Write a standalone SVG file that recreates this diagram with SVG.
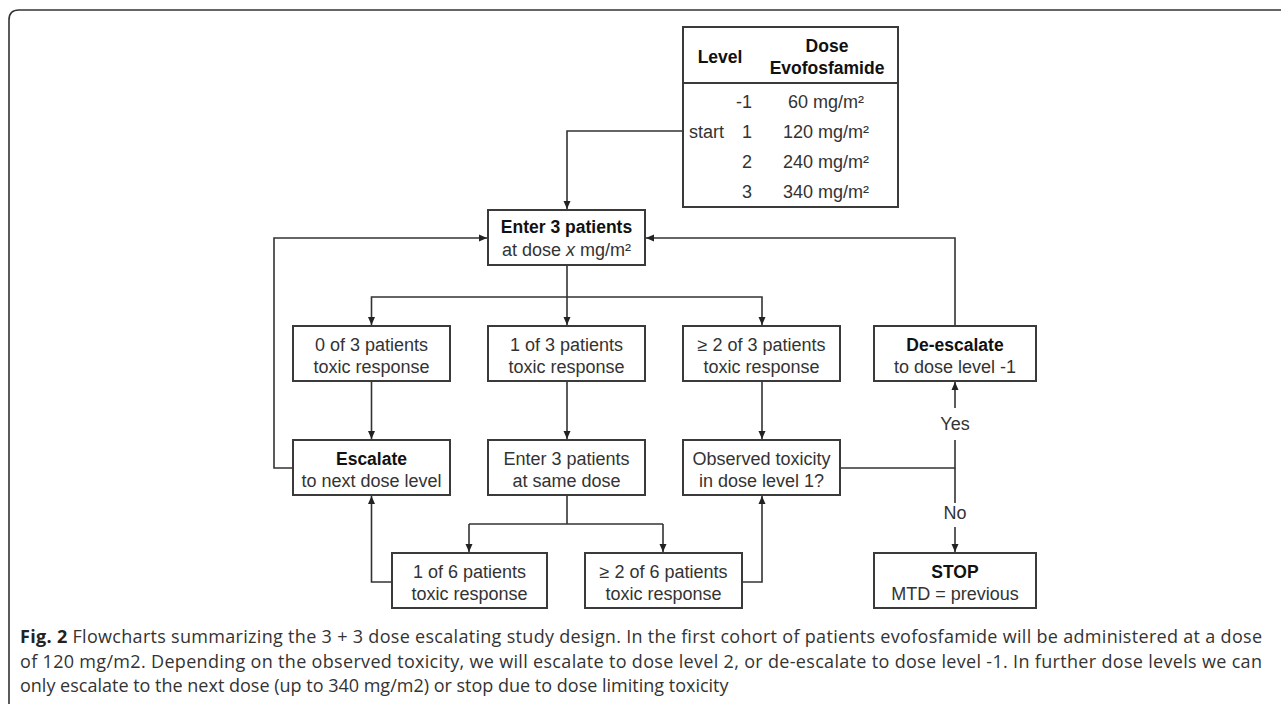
<svg xmlns="http://www.w3.org/2000/svg" width="1281" height="704" viewBox="0 0 1281 704">
<style>
.box{fill:#fff;stroke:#3a3a3a;stroke-width:2}
.t{font-family:"Liberation Sans",Arial,sans-serif;font-size:18px;fill:#333;text-anchor:middle}
.b{font-weight:bold;fill:#111;font-size:17.5px}
.c{fill:none;stroke:#333;stroke-width:1.6}
.cap{font-family:"Open Sans","Liberation Sans",sans-serif;font-size:18px;fill:#333}
</style>
<defs>
<marker id="ah" markerWidth="8" markerHeight="8" refX="8" refY="4" orient="auto" markerUnits="userSpaceOnUse">
<path d="M0,0.5 L8,4 L0,7.5 z" fill="#222"/>
</marker>
</defs>
<rect width="1281" height="704" fill="#fff"/>
<path d="M9,704 V20 Q9,10 19,10 H1281" fill="none" stroke="#333" stroke-width="1.6"/>

<g id="connectors">
<path class="c" d="M683,131 H567 V209" marker-end="url(#ah)"/>
<path class="c" d="M567,265 V325" marker-end="url(#ah)"/>
<path class="c" d="M567,297 H371.5 V325" marker-end="url(#ah)"/>
<path class="c" d="M567,297 H762 V325" marker-end="url(#ah)"/>
<path class="c" d="M371.5,381 V439" marker-end="url(#ah)"/>
<path class="c" d="M567,381 V439" marker-end="url(#ah)"/>
<path class="c" d="M762,381 V439" marker-end="url(#ah)"/>
<path class="c" d="M293,468 H274 V238 H487" marker-end="url(#ah)"/>
<path class="c" d="M955,326 V238 H646" marker-end="url(#ah)"/>
<path class="c" d="M840,468 H955 V440"/>
<path class="c" d="M955,408 V382" marker-end="url(#ah)"/>
<path class="c" d="M955,468 V503"/>
<path class="c" d="M955,527 V552" marker-end="url(#ah)"/>
<path class="c" d="M567,495 V524"/>
<path class="c" d="M469,524 H663"/>
<path class="c" d="M469,524 V552" marker-end="url(#ah)"/>
<path class="c" d="M663,524 V552" marker-end="url(#ah)"/>
<path class="c" d="M392,582 H371.5 V496" marker-end="url(#ah)"/>
<path class="c" d="M742,582 H762 V496" marker-end="url(#ah)"/>
<text class="t" x="955" y="430">Yes</text>
<text class="t" x="955" y="519">No</text>
</g>

<g id="table">
<rect class="box" x="683" y="27" width="215" height="180"/>
<line x1="683" y1="83" x2="898" y2="83" stroke="#3a3a3a" stroke-width="2"/>
<text class="t b" x="720" y="63">Level</text>
<text class="t b" x="827" y="52">Dose</text>
<text class="t b" x="827" y="74">Evofosfamide</text>
<text class="t" x="752" y="108" style="text-anchor:end">-1</text>
<text class="t" x="826" y="108">60 mg/m²</text>
<text class="t" x="689" y="138" style="text-anchor:start">start</text>
<text class="t" x="752" y="138" style="text-anchor:end">1</text>
<text class="t" x="826" y="138">120 mg/m²</text>
<text class="t" x="752" y="168" style="text-anchor:end">2</text>
<text class="t" x="826" y="168">240 mg/m²</text>
<text class="t" x="752" y="198" style="text-anchor:end">3</text>
<text class="t" x="826" y="198">340 mg/m²</text>
</g>

<g id="enter">
<rect class="box" x="488" y="210" width="157" height="55"/>
<text class="t b" x="566.5" y="233">Enter 3 patients</text>
<text class="t" x="566.5" y="256">at dose <tspan font-style="italic">x</tspan> mg/m²</text>
</g>

<g id="r0">
<rect class="box" x="293" y="326" width="157" height="55"/>
<text class="t" x="371.5" y="351">0 of 3 patients</text>
<text class="t" x="371.5" y="373">toxic response</text>
</g>
<g id="r1">
<rect class="box" x="488" y="326" width="157" height="55"/>
<text class="t" x="566.5" y="351">1 of 3 patients</text>
<text class="t" x="566.5" y="373">toxic response</text>
</g>
<g id="r2">
<rect class="box" x="683" y="326" width="157" height="55"/>
<text class="t" x="761.5" y="351">≥ 2 of 3 patients</text>
<text class="t" x="761.5" y="373">toxic response</text>
</g>
<g id="deescalate">
<rect class="box" x="874" y="326" width="162" height="55"/>
<text class="t b" x="955" y="351">De-escalate</text>
<text class="t" x="955" y="373">to dose level -1</text>
</g>

<g id="escalate">
<rect class="box" x="293" y="440" width="157" height="55"/>
<text class="t b" x="371.5" y="465">Escalate</text>
<text class="t" x="371.5" y="487">to next dose level</text>
</g>
<g id="same">
<rect class="box" x="488" y="440" width="157" height="55"/>
<text class="t" x="566.5" y="465">Enter 3 patients</text>
<text class="t" x="566.5" y="487">at same dose</text>
</g>
<g id="observed">
<rect class="box" x="683" y="440" width="157" height="55"/>
<text class="t" x="761.5" y="465">Observed toxicity</text>
<text class="t" x="761.5" y="487">in dose level 1?</text>
</g>

<g id="one6">
<rect class="box" x="392" y="553" width="155" height="55"/>
<text class="t" x="469.5" y="578">1 of 6 patients</text>
<text class="t" x="469.5" y="600">toxic response</text>
</g>
<g id="two6">
<rect class="box" x="585" y="553" width="157" height="55"/>
<text class="t" x="663.5" y="578">≥ 2 of 6 patients</text>
<text class="t" x="663.5" y="600">toxic response</text>
</g>
<g id="stop">
<rect class="box" x="874" y="553" width="162" height="55"/>
<text class="t b" x="955" y="578">STOP</text>
<text class="t" x="955" y="600">MTD = previous</text>
</g>

<g id="caption">
<text class="cap" x="20" y="643" textLength="1242" lengthAdjust="spacing"><tspan font-weight="bold" fill="#222">Fig. 2</tspan> Flowcharts summarizing the 3 + 3 dose escalating study design. In the first cohort of patients evofosfamide will be administered at a dose</text>
<text class="cap" x="20" y="668" textLength="1242" lengthAdjust="spacing">of 120 mg/m2. Depending on the observed toxicity, we will escalate to dose level 2, or de-escalate to dose level -1. In further dose levels we can</text>
<text class="cap" x="20" y="692">only escalate to the next dose (up to 340 mg/m2) or stop due to dose limiting toxicity</text>
</g>
</svg>
